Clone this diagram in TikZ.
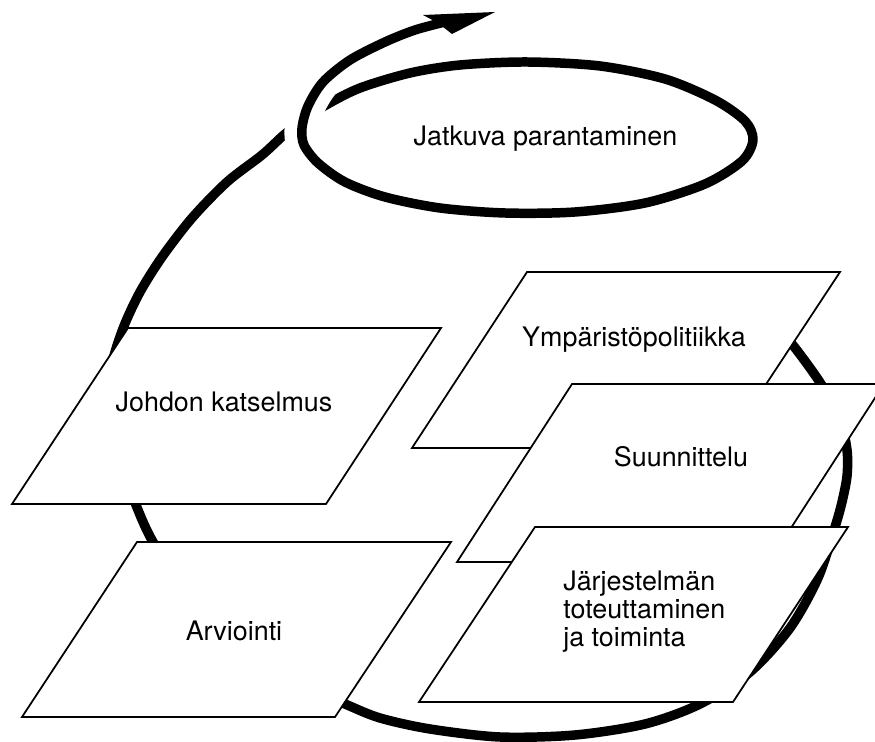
\documentclass[tikz,border=0pt]{standalone}
\usepackage{fontspec}
\setmainfont{TeX Gyre Heros}
\begin{document}
\begin{tikzpicture}[x=0.02cm,y=-0.02cm,
  spiral/.style={line width=5.4pt, line cap=butt, line join=round},
  card/.style={draw=black, fill=white, line width=1pt, line join=miter},
  lbl/.style={font=\fontsize{15.3}{16.2}\selectfont, inner sep=0pt}]
\useasboundingbox (0,0) rectangle (875,742);
\clip (0,0) rectangle (875,742);
% spiral: big loop, crossing, ellipse, rising arrow curve
\draw[spiral] plot[smooth] coordinates {
 (768,318) (792,344) (821,384) (840,420) (847,450) (847,476) (842,502)
 (835,527) (818,578) (790,628) (750,672) (700,704) (645,724) (575,735)
 (500,737) (430,729) (380,718) (345,704) (290,680) (235,645) (190,600)
 (153,542) (136,505) (122,465) (113,425) (110,392) (113,360) (124,326)
 (140,292) (162,257) (192,218) (227,182) (262,155) (285,134) (305,119)
 (326,105) (360,88) (410,73) (460,65) (527,62) (600,66) (665,79)
 (715,100) (745,121) (753,140) (742,161) (705,184) (645,203) (575,212)
 (505,213) (440,208) (385,197) (345,182) (318,163) (304,145) (302,128)
 (308,106) (323,82) (350,60) (385,42) (415,30) (445,22)};
% gap where the rising curve crosses over the loop
\begin{scope}
 \clip (270,88) rectangle (345,152);
 \draw[white, line width=19.8pt, line cap=butt] plot[smooth] coordinates {
  (345,182) (318,163) (304,145) (302,128) (308,106) (323,82) (350,60) (385,42)};
 \draw[spiral] plot[smooth] coordinates {
  (345,182) (318,163) (304,145) (302,128) (308,106) (323,82) (350,60) (385,42)};
\end{scope}
\fill (495,12) -- (423,15) -- (438,23) -- (452,34) -- cycle;
\node[lbl, anchor=base] (jatkuva) at (545.5,146) {Jatkuva parantaminen};
% cards
\draw[card] (128,328) -- (441,328) -- (326,504) -- (12,504) -- cycle;
\node[lbl, anchor=base] (johdon) at (224,412) {Johdon katselmus};
\draw[card] (137,542) -- (451,542) -- (335,717) -- (22,717) -- cycle;
\node[lbl, anchor=base] (arviointi) at (234,640) {Arviointi};
\draw[card] (527,272) -- (840,272) -- (724,448) -- (412,448) -- cycle;
\node[lbl, anchor=base] (ymparisto) at (634,347) {Ympäristöpolitiikka};
\draw[card] (572,384) -- (884,384) -- (769,562) -- (457,562) -- cycle;
\node[lbl, anchor=base] (suunnittelu) at (681,467) {Suunnittelu};
\draw[card] (535,527) -- (848,527) -- (733,702) -- (419,702) -- cycle;
\node[lbl, anchor=base west] (jarjestelma) at (563,590)
 {\vtop{\baselineskip=16.2pt\hbox{Järjestelmän}\hbox{toteuttaminen}\hbox{ja toiminta}}};
\end{tikzpicture}
\end{document}
